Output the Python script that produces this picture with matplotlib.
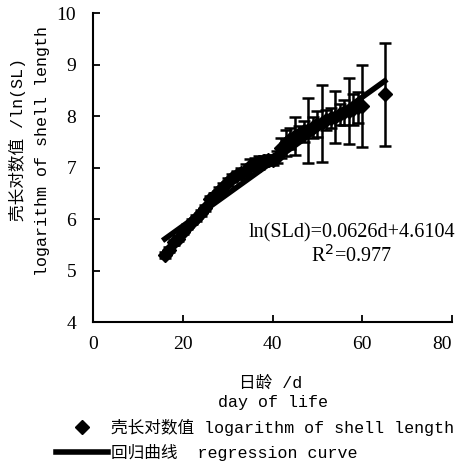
import numpy as np
import matplotlib
matplotlib.use("Agg")
import matplotlib.pyplot as plt
from matplotlib.lines import Line2D

plt.rcParams['font.family'] = ['Liberation Serif', 'Noto Sans CJK SC']
MONO = ['Liberation Mono', 'Noto Sans CJK SC']

# 日龄 (day of life) and ln(shell length)
days = [16, 17, 18, 19, 20, 21, 22, 23, 24, 25, 26, 27, 28, 29, 30,
        31, 32, 33, 34, 35, 36, 37, 38, 39, 40, 41, 42, 43, 44, 45,
        46, 47, 48, 49, 50, 51, 52, 53, 54, 55, 56, 57, 58, 59, 60, 65]
ln_sl = [5.30, 5.40, 5.55, 5.62, 5.75, 5.85, 5.95, 6.02, 6.12, 6.22, 6.38, 6.45, 6.55, 6.62, 6.72,
         6.80, 6.85, 6.90, 6.95, 7.02, 7.06, 7.10, 7.12, 7.14, 7.15, 7.20, 7.38, 7.48, 7.56, 7.62,
         7.66, 7.70, 7.72, 7.78, 7.84, 7.86, 7.92, 7.96, 7.98, 8.03, 8.07, 8.09, 8.13, 8.17, 8.19, 8.42]
err = [0.05, 0.05, 0.05, 0.05, 0.05, 0.05, 0.05, 0.05, 0.06, 0.06, 0.06, 0.06, 0.07, 0.07, 0.08,
       0.08, 0.08, 0.10, 0.12, 0.15, 0.12, 0.12, 0.10, 0.10, 0.10, 0.12, 0.20, 0.25, 0.20, 0.37,
       0.15, 0.20, 0.63, 0.20, 0.25, 0.75, 0.20, 0.20, 0.50, 0.20, 0.25, 0.64, 0.30, 0.30, 0.80, 1.00]

slope, intercept = 0.0626, 4.6104
fit_x = np.array([16, 65])
fit_y = slope * fit_x + intercept

fig = plt.figure(figsize=(4.58, 4.65), dpi=100)
ax = fig.add_axes([0.203, 0.3075, 0.784, 0.6645])

ax.errorbar(days, ln_sl, yerr=err, fmt='none', ecolor='black', elinewidth=1.8,
            capsize=4.5, capthick=1.8, zorder=2)
ax.plot(days, ln_sl, linestyle='none', marker='D', color='black', markersize=7.5, zorder=3)
ax.plot(fit_x, fit_y, color='black', linewidth=4, zorder=4)

ax.set_xlim(0, 80)
ax.set_ylim(4, 10)
ax.set_xticks([0, 20, 40, 60, 80])
ax.set_yticks([4, 5, 6, 7, 8, 9, 10])
ax.tick_params(direction='in', length=5, width=1.3, labelsize=14)
ax.tick_params(axis='y', pad=12)
ax.tick_params(axis='x', pad=10)
ax.get_xticklabels()[-1].set_ha('right')
ax.spines['top'].set_visible(False)
ax.spines['right'].set_visible(False)
for s in ['left', 'bottom']:
    ax.spines[s].set_linewidth(1.5)

ax.text(0.72, 0.29, 'ln(SLd)=0.0626d+4.6104', transform=ax.transAxes, ha='center',
        va='center', fontsize=14.5)
ax.text(0.72, 0.214, 'R$^2$=0.977', transform=ax.transAxes, ha='center',
        va='center', fontsize=14.5)

# axis titles, two lines each
fig.text(0.038, 0.70, '壳长对数值 /ln(SL)', rotation=90, ha='center', va='center',
         fontsize=12, family=MONO)
fig.text(0.093, 0.675, 'logarithm of shell length', rotation=90, ha='center', va='center',
         fontsize=12, family=MONO)
fig.text(0.59, 0.177, '日龄 /d', ha='center', va='center', fontsize=12, family=MONO)
fig.text(0.595, 0.135, 'day of life', ha='center', va='center', fontsize=12, family=MONO)

handles = [Line2D([], [], linestyle='none', marker='D', color='black', markersize=7.5),
           Line2D([], [], color='black', linewidth=4)]
labels = ['壳长对数值 logarithm of shell length', '回归曲线  regression curve']
fig.legend(handles, labels, loc='upper left', bbox_to_anchor=(0.123, 0.099),
           frameon=False, prop={'family': MONO, 'size': 12}, handlelength=3.1,
           handletextpad=0.15, labelspacing=0.45, borderaxespad=0, borderpad=0)

fig.savefig('out.png', dpi=100)
